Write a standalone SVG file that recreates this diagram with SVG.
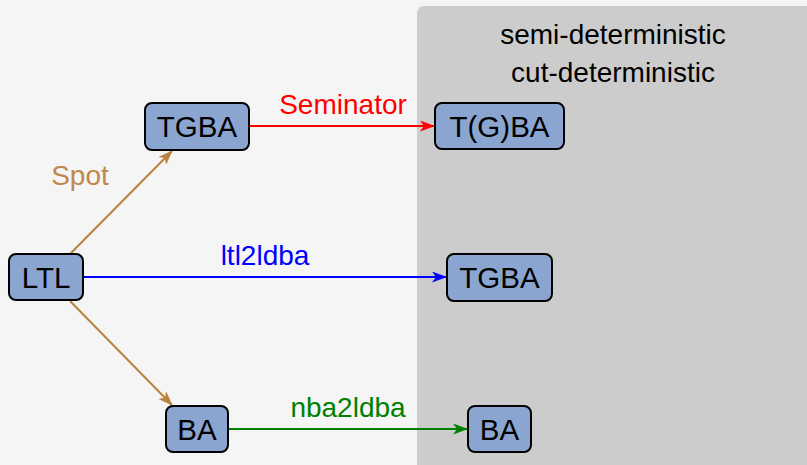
<svg xmlns="http://www.w3.org/2000/svg" width="807" height="465" viewBox="0 0 807 465">
<defs>
<style>
.node rect{fill:#8aa5d0;stroke:#000;stroke-width:2}
text{font-family:"Liberation Sans","DejaVu Sans",sans-serif;font-size:28px;text-anchor:middle}
.node text{fill:#000;font-size:29.5px}
.edge{fill:none;stroke-width:2}
</style>
<marker id="ab" viewBox="0 0 15 11" refX="14" refY="5.5" markerWidth="15" markerHeight="11" markerUnits="userSpaceOnUse" orient="auto"><path d="M0,0 L15,5.5 L0,11 L4,5.5 Z" fill="#b8823f"/></marker>
<marker id="ar" viewBox="0 0 15 11" refX="14" refY="5.5" markerWidth="15" markerHeight="11" markerUnits="userSpaceOnUse" orient="auto"><path d="M0,0 L15,5.5 L0,11 L4,5.5 Z" fill="#ff0000"/></marker>
<marker id="abl" viewBox="0 0 15 11" refX="14" refY="5.5" markerWidth="15" markerHeight="11" markerUnits="userSpaceOnUse" orient="auto"><path d="M0,0 L15,5.5 L0,11 L4,5.5 Z" fill="#0000ff"/></marker>
<marker id="ag" viewBox="0 0 15 11" refX="14" refY="5.5" markerWidth="15" markerHeight="11" markerUnits="userSpaceOnUse" orient="auto"><path d="M0,0 L15,5.5 L0,11 L4,5.5 Z" fill="#008000"/></marker>
</defs>
<rect x="0" y="0" width="807" height="465" fill="#f5f5f5"/>
<g id="panel">
<rect x="417" y="6" width="400" height="470" rx="7" fill="#cccccc"/>
<text x="613" y="44">semi-deterministic</text>
<text x="613" y="82">cut-deterministic</text>
</g>
<g id="connectors">
<line class="edge" x1="70" y1="254" x2="172" y2="151" stroke="#b8823f" marker-end="url(#ab)"/>
<line class="edge" x1="70" y1="301" x2="172" y2="405" stroke="#b8823f" marker-end="url(#ab)"/>
<line class="edge" x1="83" y1="277" x2="446" y2="277" stroke="#0000ff" marker-end="url(#abl)"/>
<line class="edge" x1="249" y1="126" x2="434" y2="126" stroke="#ff0000" marker-end="url(#ar)"/>
<line class="edge" x1="228" y1="429" x2="467" y2="429" stroke="#008000" marker-end="url(#ag)"/>
<text x="80" y="185" fill="#c0884a">Spot</text>
<text x="343" y="114" fill="#ff0000">Seminator</text>
<text x="265" y="265" fill="#0000ff">ltl2ldba</text>
<text x="348" y="417" fill="#008000">nba2ldba</text>
</g>
<g id="ltl" class="node"><rect x="9" y="254" width="74" height="46" rx="7"/><text x="46" y="288">LTL</text></g>
<g id="tgba1" class="node"><rect x="145" y="103" width="104" height="47" rx="7"/><text x="197" y="137">TGBA</text></g>
<g id="tgba2" class="node"><rect x="435" y="103" width="129" height="46" rx="7"/><text x="499.5" y="137">T(G)BA</text></g>
<g id="tgba3" class="node"><rect x="447" y="254" width="105" height="47" rx="7"/><text x="499.5" y="288">TGBA</text></g>
<g id="ba1" class="node"><rect x="166" y="406" width="62" height="46" rx="7"/><text x="197" y="440">BA</text></g>
<g id="ba2" class="node"><rect x="468" y="406" width="63" height="46" rx="7"/><text x="499.5" y="440">BA</text></g>
</svg>
